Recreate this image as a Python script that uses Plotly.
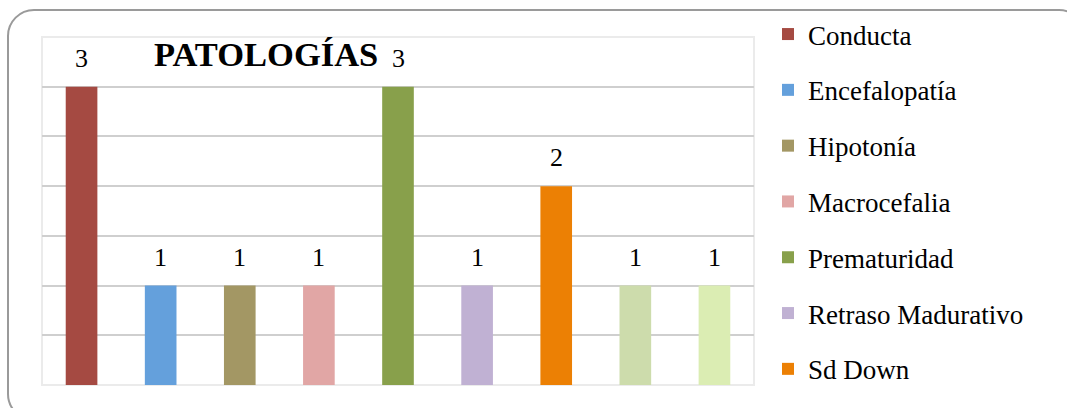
import plotly.graph_objects as go

categories = ["Conducta", "Encefalopatía", "Hipotonía", "Macrocefalia", "Prematuridad",
              "Retraso Madurativo", "Sd Down", "Categoría 8", "Categoría 9"]
values = [3, 1, 1, 1, 3, 1, 2, 1, 1]
colors = ["#a54a42", "#64a0dc", "#a39764", "#e1a6a5", "#88a04b",
          "#c0b1d3", "#ec8004", "#cddcac", "#dbedb3"]
in_legend = [True, True, True, True, True, True, True, False, False]
title_text = "PATOLOGÍAS"

W, H = 1067, 408
ML, MR, MT, MB = 42, 313, 0, 0
PW, PH = W - ML - MR, H - MT - MB
PLOT_TOP, PLOT_BOTTOM = 37, 385


def px(x):
    return (x - ML) / PW


def py(y):
    return (H - MB - y) / PH


fig = go.Figure()
for cat, val, col, leg in zip(categories, values, colors, in_legend):
    fig.add_trace(go.Bar(
        x=[cat], y=[val], name=cat, width=0.4,
        marker=dict(color=col, line=dict(width=0)),
        showlegend=leg, legendgroup=cat,
    ))
    fig.add_annotation(x=cat, y=val, text=str(val), showarrow=False,
                       yanchor="bottom", yshift=12,
                       font=dict(family="Liberation Serif", size=26, color="#000"))

# Title
fig.add_annotation(xref="paper", yref="paper", x=px(266), y=py(54), text="<b>%s</b>" % title_text,
                   showarrow=False, xanchor="center", yanchor="middle",
                   font=dict(family="Liberation Serif", size=34.5, color="#000"))

# plot-area border (light)
fig.add_shape(type="rect", xref="x domain", yref="y domain", x0=0, x1=1, y0=0, y1=1,
              line=dict(color="#ebebeb", width=2), layer="below")

# outer rounded border
x0, y0, x1, y1, r = 8, 10, 1085, 420, 26
k = 0.45
path = (
    f"M {px(x0 + r)},{py(y0)} L {px(x1 - r)},{py(y0)} "
    f"C {px(x1 - r * k)},{py(y0)} {px(x1)},{py(y0 + r * k)} {px(x1)},{py(y0 + r)} "
    f"L {px(x1)},{py(y1 - r)} "
    f"C {px(x1)},{py(y1 - r * k)} {px(x1 - r * k)},{py(y1)} {px(x1 - r)},{py(y1)} "
    f"L {px(x0 + r)},{py(y1)} "
    f"C {px(x0 + r * k)},{py(y1)} {px(x0)},{py(y1 - r * k)} {px(x0)},{py(y1 - r)} "
    f"L {px(x0)},{py(y0 + r)} "
    f"C {px(x0)},{py(y0 + r * k)} {px(x0 + r * k)},{py(y0)} {px(x0 + r)},{py(y0)} Z"
)
fig.add_shape(type="path", xref="paper", yref="paper", path=path,
              line=dict(color="#9a9a9a", width=2), layer="above")

fig.update_layout(
    width=W, height=H,
    margin=dict(l=ML, r=MR, t=MT, b=MB),
    paper_bgcolor="white", plot_bgcolor="white",
    barmode="overlay",
    xaxis=dict(type="category", categoryorder="array", categoryarray=categories,
               range=[-0.5, 8.5], showticklabels=False, showgrid=False, zeroline=False,
               showline=False, ticks=""),
    yaxis=dict(range=[0, 3.5], tickvals=[0.5, 1, 1.5, 2, 2.5, 3], showticklabels=False,
               domain=[py(PLOT_BOTTOM), py(PLOT_TOP)],
               showgrid=True, gridcolor="#cfcfcf", gridwidth=1.5, zeroline=False,
               showline=False, ticks=""),
    legend=dict(x=px(768), y=py(10), xanchor="left", yanchor="top",
                font=dict(family="Liberation Serif", size=27, color="#000"),
                tracegroupgap=17.7, bgcolor="rgba(0,0,0,0)", itemwidth=30),
    showlegend=True,
)

fig.write_html("out.html")
